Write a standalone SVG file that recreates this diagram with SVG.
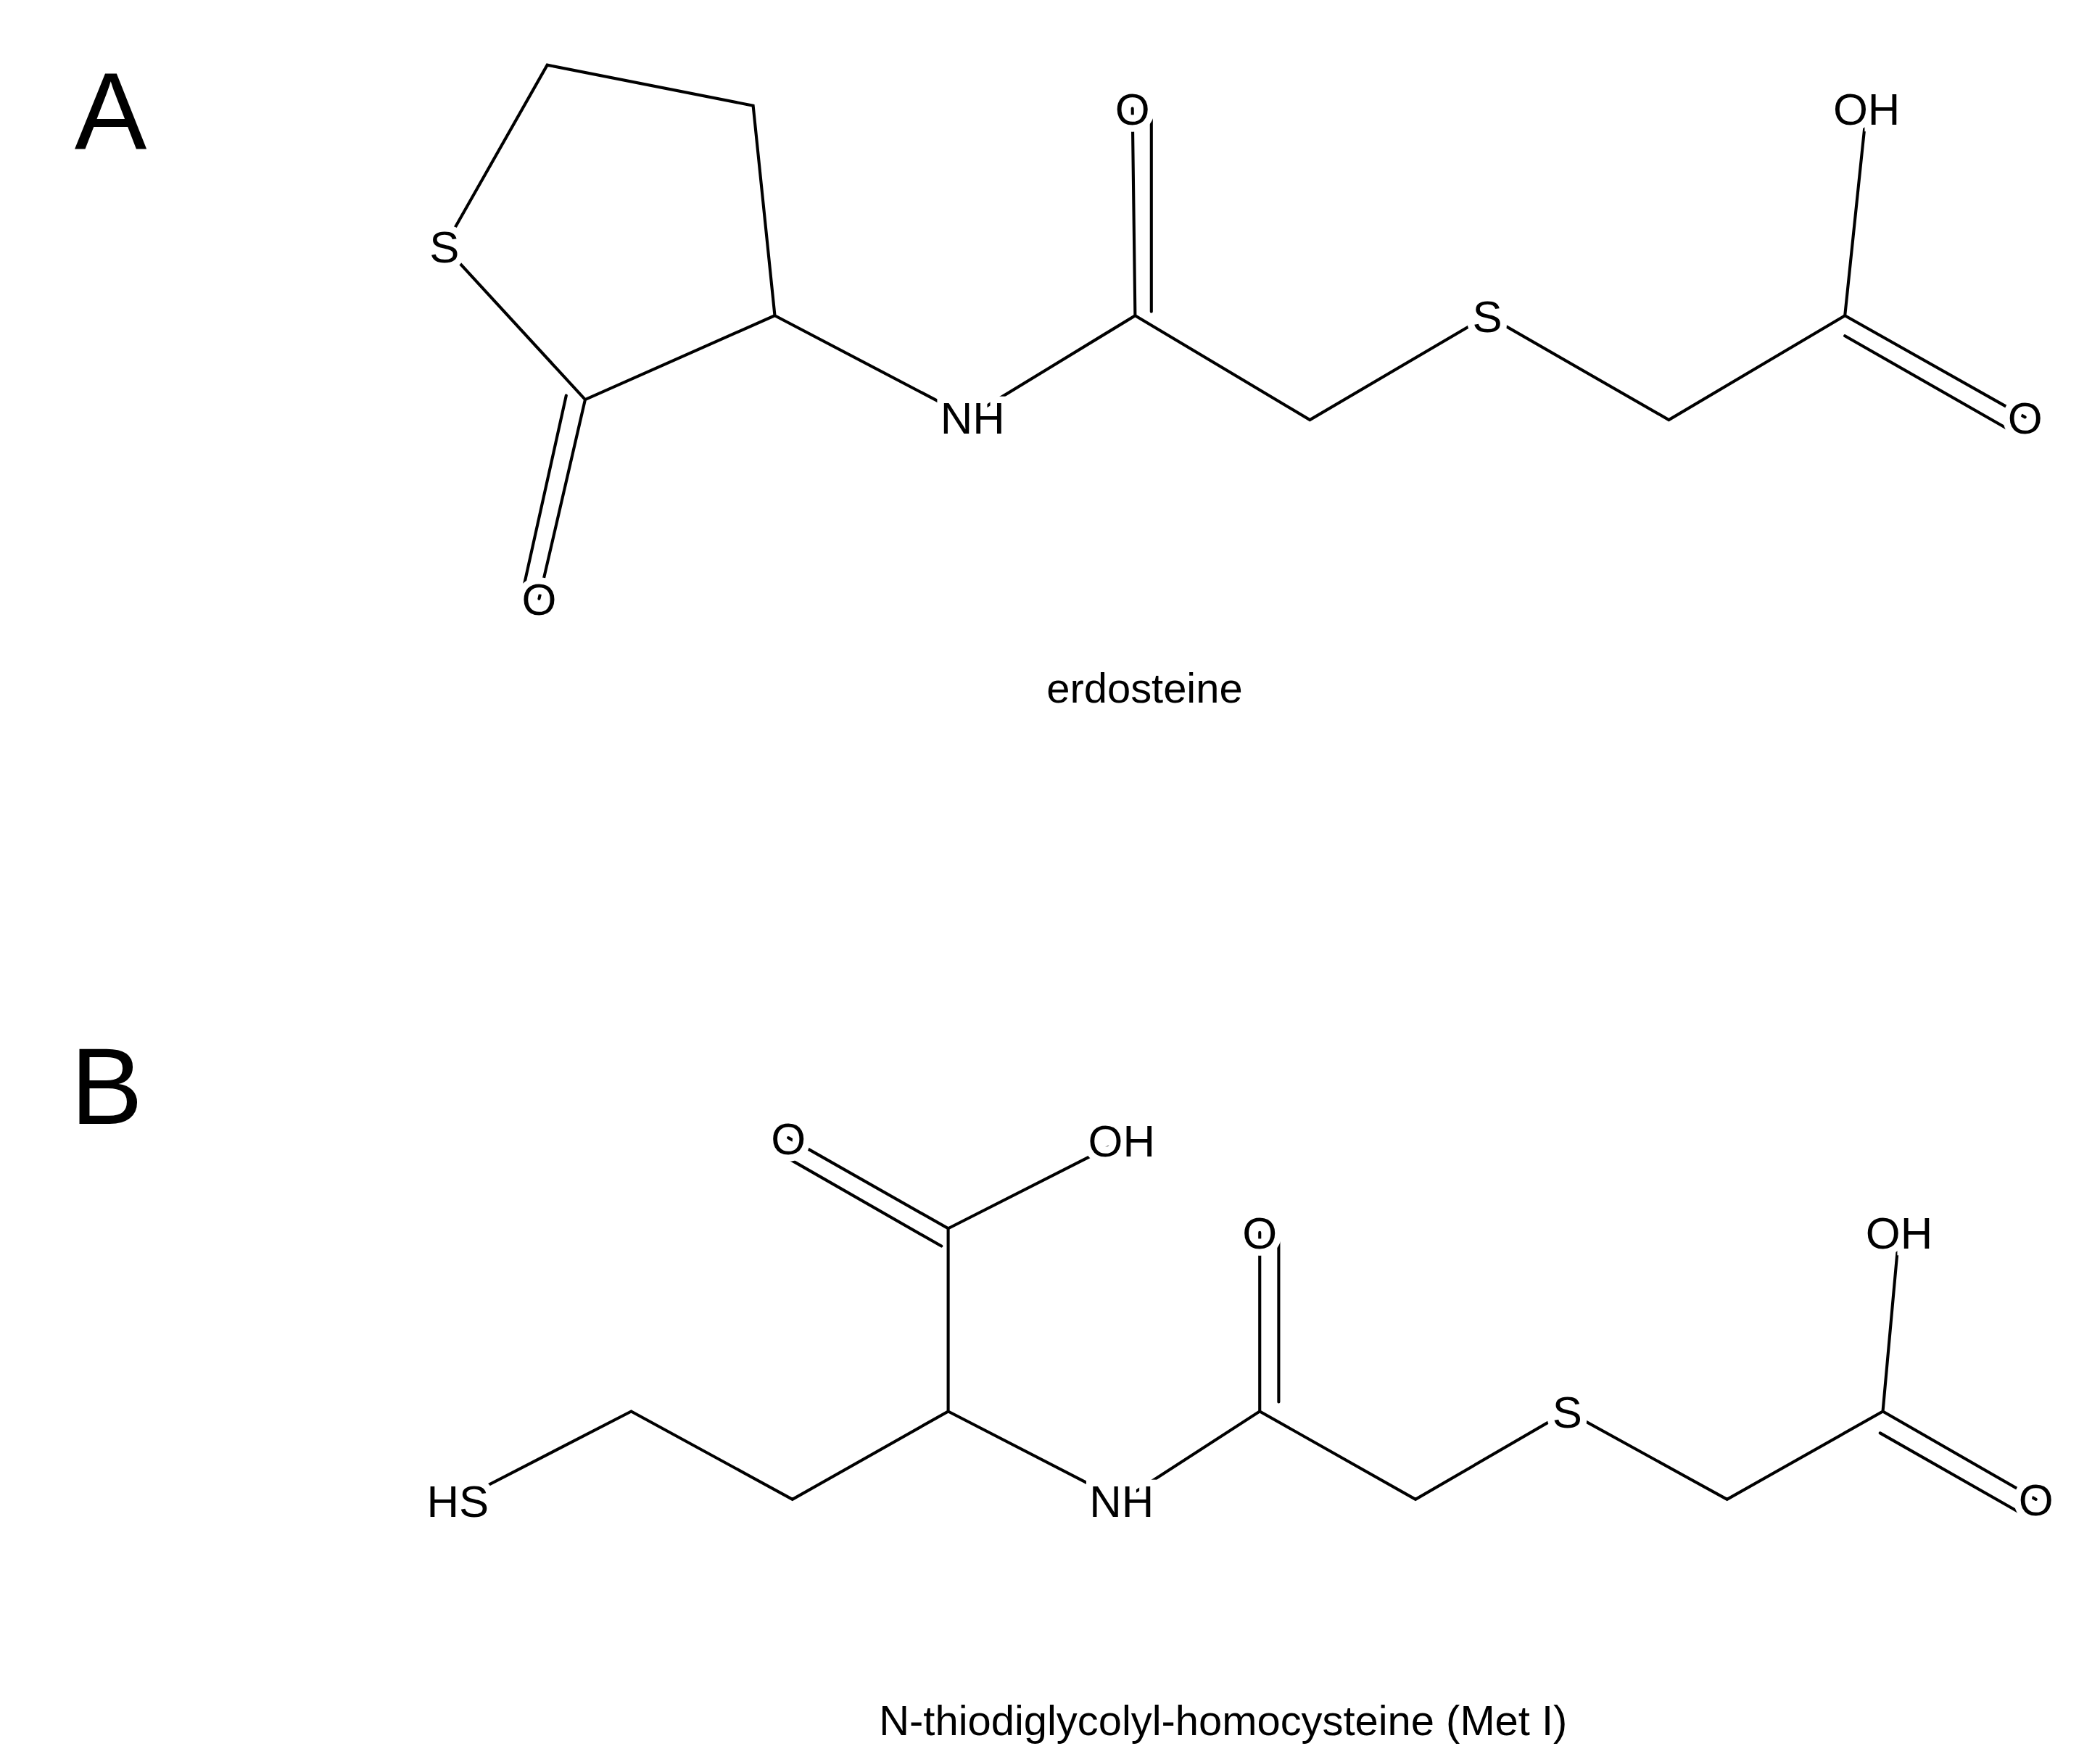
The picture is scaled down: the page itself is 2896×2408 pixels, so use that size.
<svg xmlns="http://www.w3.org/2000/svg" width="2896" height="2408" viewBox="0 0 2896 2408">
<style>
.b{stroke:#000;stroke-width:2.2;fill:none;stroke-linecap:round}
.t{font-family:"Liberation Sans",Arial,sans-serif;font-size:33px;text-anchor:middle;fill:#000;stroke:#fff;stroke-width:10px;paint-order:stroke}
.c{font-family:"Liberation Sans",Arial,sans-serif;font-size:31px;text-anchor:middle;fill:#000}
.p{font-family:"Liberation Sans",Arial,sans-serif;font-size:80px;fill:#000}
</style>
<rect width="2896" height="2408" fill="#fff"/>
<g transform="scale(1.868)">
<g id="connectors">
<path class="b" d="M328,182L404,48L556,78L572,233L432,295L328,182M432,295L398,442M418,292L386,436M572,233L715,308L838,233L836,80M850,230L850,85M838,233L967,310L1098,233L1232,310L1362,233L1378,80M1362,233L1495,308M1362,248L1488,320"/>
<path class="b" d="M338,1108L466,1042L585,1107L700,1042L700,907L582,840M695,920L578,853M700,907L828,842M700,1042L828,1108L930,1042L930,910M944,1035L944,915M930,1042L1045,1107L1157,1042L1275,1107L1390,1042L1402,910M1390,1042L1503,1107M1388,1058L1495,1119"/>
</g>
<g id="labelA"><text class="p" x="55" y="110">A</text></g>
<g id="labelB"><text class="p" x="52" y="830">B</text></g>
<g id="atomsA">
<text class="t" x="328" y="194">S</text>
<text class="t" x="398" y="454">O</text>
<text class="t" x="718" y="320">NH</text>
<text class="t" x="836" y="92">O</text>
<text class="t" x="1098" y="245">S</text>
<text class="t" x="1378" y="92">OH</text>
<text class="t" x="1495" y="320">O</text>
</g>
<g id="atomsB">
<text class="t" x="338" y="1120">HS</text>
<text class="t" x="582" y="852">O</text>
<text class="t" x="828" y="854">OH</text>
<text class="t" x="828" y="1120">NH</text>
<text class="t" x="930" y="922">O</text>
<text class="t" x="1157" y="1054">S</text>
<text class="t" x="1402" y="922">OH</text>
<text class="t" x="1503" y="1119">O</text>
</g>
<g id="captions">
<text class="c" x="845" y="519">erdosteine</text>
<text class="c" x="903" y="1281">N-thiodiglycolyl-homocysteine (Met I)</text>
</g>
</g>
</svg>
